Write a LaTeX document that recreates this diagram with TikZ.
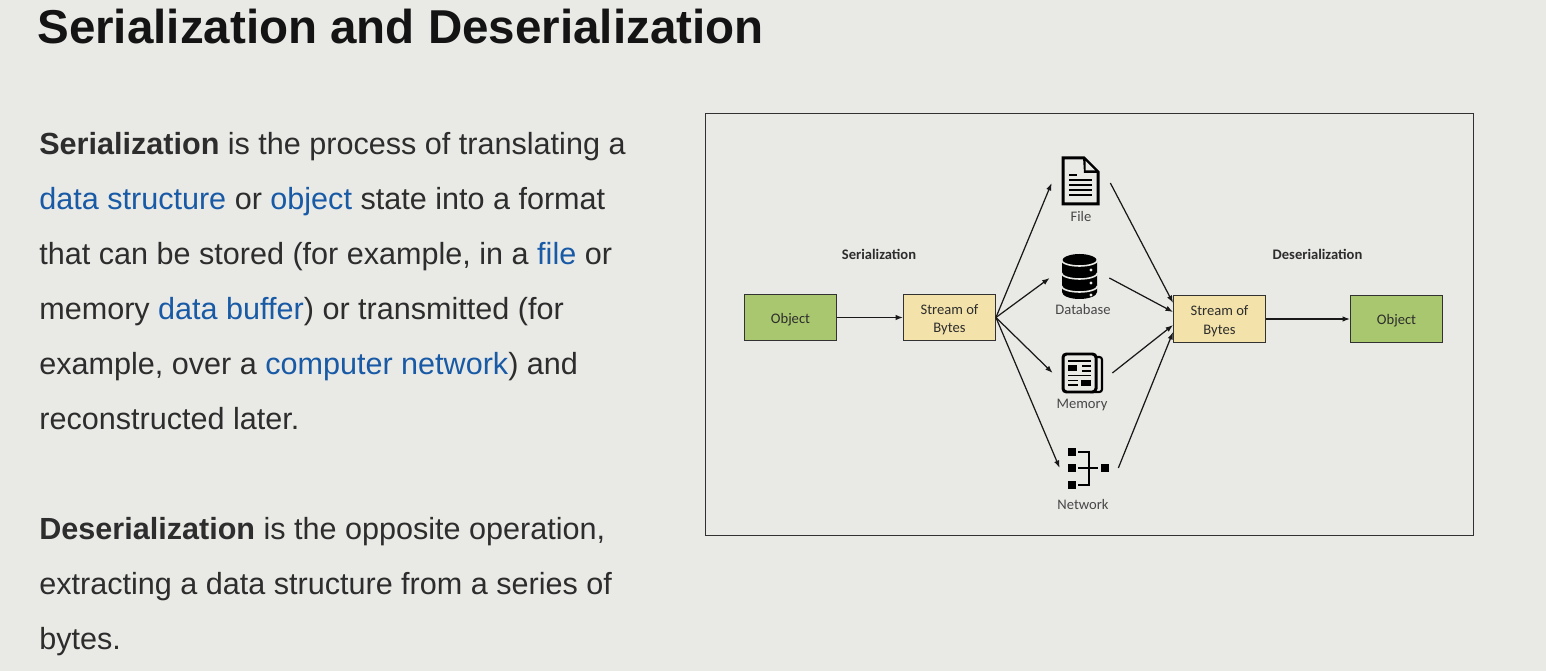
\documentclass[tikz,border=0pt]{standalone}
\usepackage{fontspec}
\setmainfont{Liberation Sans}
\newfontfamily\labelfont{Carlito}
\usetikzlibrary{arrows.meta}
\definecolor{slidegray}{RGB}{233,233,230}
\definecolor{bodyink}{RGB}{45,45,45}
\definecolor{linkblue}{RGB}{24,90,165}
\definecolor{objgreen}{RGB}{169,199,110}
\definecolor{bytesyellow}{RGB}{243,226,170}
\definecolor{frameink}{RGB}{50,50,50}
\newcommand{\lnk}[1]{\textcolor{linkblue}{#1}}
\newcommand{\streamtext}{\rule{0pt}{8.3pt}Stream of\\Bytes}
\tikzset{
  flow/.style={-{Latex[length=1.5mm,width=1.1mm]},line width=0.7pt,black!90},
  box/.style={draw=frameink,line width=0.5pt,minimum width=18.4mm,minimum height=9.3mm,inner sep=1pt,
              align=center,text=bodyink,font=\labelfont\fontsize{8.3}{10.4}\selectfont,
              execute at begin node={\rule{0pt}{8pt}}},
  object/.style={box,fill=objgreen},
  bytes/.style={box,fill=bytesyellow},
  lab/.style={text=black!72,inner sep=0pt,font=\labelfont\fontsize{8.3}{9}\selectfont},
  head/.style={lab,text=bodyink,font=\labelfont\bfseries\fontsize{8.3}{9}\selectfont},
  para/.style={anchor=north west,inner sep=0pt,align=left,text=bodyink,
               font=\fontsize{17.4}{31.3}\selectfont},
  iconbox/.style={inner sep=0pt,minimum height=6mm},
}

\begin{document}
\begin{tikzpicture}[x=0.02cm,y=-0.02cm]
  \path[use as bounding box,fill=slidegray] (0,0) rectangle (1546,671);
  \node[anchor=base west,inner sep=0pt,font=\bfseries\fontsize{27.05}{30}\selectfont,text=black!92] (title) at (37,44)
    {Serialization and Deserialization};

  \node[para] (sertext) at (39,132)
    {\textbf{Serialization} is the process of translating a\\
     \lnk{data structure} or \lnk{object} state into a format\\
     that can be stored (for example, in a \lnk{file} or\\
     memory \lnk{data buffer}) or transmitted (for\\
     example, over a \lnk{computer network}) and\\
     reconstructed later.};
  \node[para] (destext) at (39,517)
    {\textbf{Deserialization} is the opposite operation,\\
     extracting a data structure from a series of\\
     bytes.};

  \draw[frameink,line width=0.5pt] (705,113) rectangle (1473,535);

  \node[object] (objleft) at (790.5,317.5) {Object};
  \node[bytes] (streamleft) at (949.5,317.5) {\streamtext};
  \node[bytes] (streamright) at (1219.5,319) {\streamtext};
  \node[object] (objright) at (1396.5,319) {Object};
  \node[head] (serhead) at (879,254) {Serialization};
  \node[head] (deshead) at (1317.5,254) {Deserialization};

  % invisible holders, one for each icon
  \node[iconbox,minimum width=11.6mm] (file) at (1081,183) {};
  \node[iconbox,minimum width=11.8mm] (database) at (1079.5,278) {};
  \node[iconbox,minimum width=11.8mm] (memory) at (1082.5,373) {};
  \node[iconbox,minimum width=11.6mm] (network) at (1089,468) {};
  \node[lab] (filelab) at (1081,216) {File};
  \node[lab] (databaselab) at (1083,309.5) {Database};
  \node[lab] (memorylab) at (1082,405.5) {Memory};
  \node[lab] (networklab) at (1083,504) {Network};

  % file icon
  \draw[black,line width=1.7pt,fill=slidegray,line join=miter]
    (1063,158) -- (1084,158) -- (1098,172) -- (1098,204) -- (1063,204) -- cycle;
  \fill[black] (1083,157) -- (1099,173) -- (1084,173) -- cycle;
  \fill[slidegray] (1085.5,161) -- (1095,170.5) -- (1085.5,170.5) -- cycle;
  \draw[black,line width=0.9pt] (1069,175) -- (1077,175);
  \foreach \y in {180,185,190,195}{
    \draw[black,line width=0.9pt] (1069,\y) -- (1092,\y);
  }

  % database icon
  \fill[black] (1062,261) arc[start angle=180,end angle=360,x radius=17.5,y radius=7] -- (1097,292)
    arc[start angle=0,end angle=180,x radius=17.5,y radius=7] -- cycle;
  \foreach \y in {260,273,286}{
    \draw[slidegray,line width=0.9pt] (1061.5,\y) arc[start angle=180,end angle=0,x radius=18,y radius=6];
  }
  \foreach \y in {270,283,295}{
    \fill[slidegray] (1091,\y) circle (1.6);
  }

  % memory icon
  \draw[black,line width=1.2pt,rounded corners=1.5pt] (1096,357) -- (1102,357) -- (1102,392) -- (1090,392);
  \draw[black,line width=1.7pt,rounded corners=2pt,fill=slidegray] (1063,354) rectangle (1096,392);
  \draw[black,line width=0.9pt] (1068,361) -- (1091,361) (1082,366) -- (1091,366) (1082,371) -- (1091,371)
    (1068,375.5) -- (1091,375.5) (1068,380.5) -- (1078,380.5) (1068,385) -- (1078,385);
  \fill[black] (1068,365) rectangle (1077,371.5);
  \fill[black] (1081,380) rectangle (1091,386);

  % network icon
  \foreach \y in {452,468,485}{
    \fill[black] (1068,\y-4) rectangle (1076,\y+4);
  }
  \fill[black] (1100.5,464) rectangle (1109,472.5);
  \draw[black,line width=1.1pt] (1078,452) -- (1089,452) -- (1089,485) -- (1078,485)
    (1078,468) -- (1098,468);

  \draw[flow] (objleft) -- (streamleft);
  \draw[flow] (streamright) -- (objright);
  \foreach \target in {file,database,memory,network}{
    \draw[flow] (streamleft.east) -- (\target.west);
  }
  \foreach \source/\dy in {file/-16,database/-7,memory/6,network/13}{
    \draw[flow] (\source.east) -- ([yshift=-\dy*0.02cm]streamright.west);
  }
\end{tikzpicture}
\end{document}
